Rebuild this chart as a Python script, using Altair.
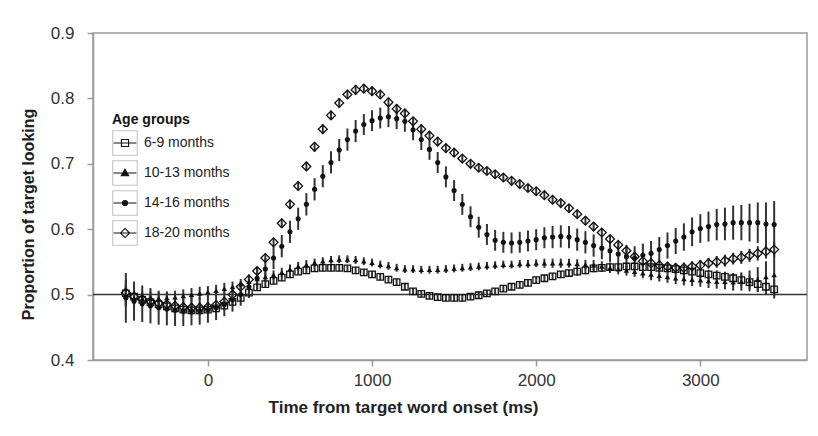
import altair as alt
import pandas as pd

groups = ["6-9 months", "10-13 months", "14-16 months", "18-20 months"]
time_ms = list(range(-500, 3451, 50))

sq_mean = [0.502, 0.497, 0.492, 0.488, 0.485, 0.482, 0.479, 0.477, 0.476, 0.476,
           0.477, 0.479, 0.483, 0.489, 0.495, 0.503, 0.511, 0.516, 0.521, 0.526,
           0.531, 0.535, 0.537, 0.540, 0.541, 0.541, 0.541, 0.540, 0.537, 0.534,
           0.531, 0.527, 0.523, 0.519, 0.512, 0.505, 0.501, 0.498, 0.496, 0.495,
           0.495, 0.495, 0.497, 0.499, 0.502, 0.505, 0.509, 0.512, 0.515, 0.518,
           0.522, 0.525, 0.528, 0.531, 0.533, 0.535, 0.537, 0.540, 0.541, 0.542,
           0.542, 0.543, 0.543, 0.542, 0.542, 0.541, 0.540, 0.539, 0.537, 0.535,
           0.533, 0.531, 0.529, 0.527, 0.525, 0.522, 0.519, 0.516, 0.512, 0.508]
tri_mean = [0.497, 0.495, 0.494, 0.494, 0.494, 0.495, 0.496, 0.498, 0.500, 0.502,
            0.504, 0.506, 0.509, 0.512, 0.516, 0.520, 0.524, 0.527, 0.530, 0.534,
            0.539, 0.543, 0.546, 0.549, 0.551, 0.553, 0.554, 0.554, 0.553, 0.551,
            0.549, 0.546, 0.544, 0.541, 0.539, 0.539, 0.538, 0.538, 0.538, 0.539,
            0.540, 0.541, 0.542, 0.543, 0.544, 0.545, 0.546, 0.546, 0.547, 0.547,
            0.548, 0.548, 0.548, 0.548, 0.548, 0.547, 0.546, 0.545, 0.543, 0.541,
            0.539, 0.537, 0.535, 0.533, 0.531, 0.529, 0.527, 0.525, 0.524, 0.523,
            0.522, 0.521, 0.520, 0.520, 0.519, 0.520, 0.521, 0.523, 0.527, 0.530]
cir_mean = [0.495, 0.490, 0.486, 0.483, 0.480, 0.478, 0.476, 0.475, 0.475, 0.475,
            0.477, 0.480, 0.485, 0.492, 0.500, 0.512, 0.525, 0.539, 0.556, 0.574,
            0.596, 0.616, 0.638, 0.661, 0.681, 0.702, 0.721, 0.737, 0.750, 0.760,
            0.766, 0.770, 0.772, 0.769, 0.765, 0.752, 0.737, 0.722, 0.702, 0.680,
            0.659, 0.638, 0.619, 0.603, 0.592, 0.583, 0.580, 0.579, 0.580, 0.582,
            0.584, 0.587, 0.588, 0.589, 0.588, 0.584, 0.580, 0.575, 0.571, 0.567,
            0.562, 0.558, 0.556, 0.560, 0.563, 0.569, 0.575, 0.582, 0.588, 0.596,
            0.601, 0.604, 0.607, 0.608, 0.610, 0.610, 0.610, 0.610, 0.608, 0.607]
dia_mean = [0.503, 0.497, 0.493, 0.490, 0.487, 0.485, 0.483, 0.481, 0.480, 0.480,
            0.481, 0.484, 0.489, 0.500, 0.512, 0.523, 0.536, 0.556, 0.580, 0.609,
            0.638, 0.666, 0.696, 0.726, 0.753, 0.774, 0.793, 0.806, 0.813, 0.815,
            0.811, 0.806, 0.794, 0.784, 0.777, 0.765, 0.753, 0.743, 0.734, 0.724,
            0.717, 0.708, 0.700, 0.694, 0.689, 0.684, 0.679, 0.674, 0.669, 0.663,
            0.658, 0.652, 0.645, 0.640, 0.632, 0.623, 0.613, 0.604, 0.595, 0.585,
            0.576, 0.567, 0.558, 0.551, 0.548, 0.545, 0.543, 0.541, 0.541, 0.543,
            0.545, 0.548, 0.550, 0.552, 0.555, 0.557, 0.560, 0.563, 0.566, 0.569]

sq_err = [0.020, 0.012, 0.010, 0.009, 0.008, 0.008, 0.008, 0.008, 0.008, 0.008,
          0.007, 0.007, 0.007, 0.006, 0.006, 0.006, 0.005, 0.005, 0.005, 0.005,
          0.005, 0.005, 0.005, 0.005, 0.005, 0.005, 0.005, 0.005, 0.005, 0.005,
          0.005, 0.005, 0.005, 0.005, 0.005, 0.005, 0.005, 0.005, 0.005, 0.005,
          0.005, 0.005, 0.005, 0.005, 0.005, 0.005, 0.005, 0.005, 0.005, 0.005,
          0.005, 0.005, 0.005, 0.005, 0.005, 0.006, 0.006, 0.006, 0.006, 0.006,
          0.006, 0.006, 0.006, 0.006, 0.006, 0.006, 0.006, 0.007, 0.007, 0.007,
          0.007, 0.007, 0.008, 0.008, 0.008, 0.009, 0.010, 0.011, 0.012, 0.014]
tri_err = [0.014, 0.012, 0.011, 0.011, 0.010, 0.010, 0.010, 0.010, 0.010, 0.010,
           0.009, 0.009, 0.009, 0.008, 0.008, 0.008, 0.008, 0.007, 0.007, 0.007,
           0.007, 0.007, 0.007, 0.006, 0.006, 0.006, 0.006, 0.006, 0.006, 0.006,
           0.006, 0.006, 0.006, 0.006, 0.006, 0.006, 0.006, 0.006, 0.006, 0.006,
           0.006, 0.006, 0.006, 0.006, 0.006, 0.006, 0.006, 0.006, 0.006, 0.006,
           0.006, 0.007, 0.007, 0.007, 0.007, 0.007, 0.007, 0.008, 0.008, 0.008,
           0.008, 0.008, 0.008, 0.008, 0.009, 0.009, 0.009, 0.009, 0.010, 0.010,
           0.010, 0.011, 0.011, 0.012, 0.013, 0.014, 0.016, 0.019, 0.024, 0.032]
cir_err = [0.038, 0.030, 0.028, 0.027, 0.026, 0.025, 0.024, 0.023, 0.022, 0.021,
           0.020, 0.019, 0.018, 0.018, 0.017, 0.017, 0.017, 0.017, 0.017, 0.017,
           0.017, 0.017, 0.017, 0.017, 0.017, 0.017, 0.017, 0.017, 0.017, 0.016,
           0.016, 0.016, 0.016, 0.016, 0.016, 0.016, 0.016, 0.016, 0.016, 0.016,
           0.016, 0.016, 0.016, 0.016, 0.016, 0.016, 0.016, 0.016, 0.016, 0.016,
           0.016, 0.016, 0.017, 0.017, 0.017, 0.017, 0.017, 0.017, 0.017, 0.017,
           0.017, 0.018, 0.018, 0.018, 0.019, 0.019, 0.020, 0.020, 0.021, 0.022,
           0.022, 0.023, 0.024, 0.025, 0.026, 0.027, 0.029, 0.031, 0.033, 0.036]
dia_err = [0.012, 0.010, 0.009, 0.009, 0.008, 0.008, 0.008, 0.008, 0.008, 0.008,
           0.008, 0.008, 0.008, 0.008, 0.008, 0.008, 0.007, 0.007, 0.007, 0.007,
           0.007, 0.007, 0.007, 0.007, 0.007, 0.007, 0.007, 0.007, 0.007, 0.007,
           0.007, 0.007, 0.007, 0.007, 0.007, 0.007, 0.007, 0.007, 0.007, 0.007,
           0.006, 0.006, 0.006, 0.006, 0.006, 0.006, 0.006, 0.006, 0.006, 0.006,
           0.006, 0.006, 0.006, 0.006, 0.006, 0.006, 0.006, 0.006, 0.006, 0.006,
           0.006, 0.006, 0.007, 0.007, 0.007, 0.007, 0.007, 0.007, 0.008, 0.008,
           0.008, 0.008, 0.009, 0.009, 0.009, 0.010, 0.010, 0.011, 0.011, 0.012]

x_ticks = [0, 1000, 2000, 3000]
y_ticks = [0.4, 0.5, 0.6, 0.7, 0.8, 0.9]

means = [sq_mean, tri_mean, cir_mean, dia_mean]
errs = [sq_err, tri_err, cir_err, dia_err]
rows = []
for g, m, e in zip(groups, means, errs):
    for t, v, s in zip(time_ms, m, e):
        rows.append({"t": t, "group": g, "v": v, "lo": v - s, "hi": v + s})
df = pd.DataFrame(rows)

FONT = "Liberation Sans"
x_scale = alt.Scale(domain=[-700, 3650], nice=False, zero=False)
y_scale = alt.Scale(domain=[0.4, 0.9], nice=False, zero=False)
x_axis = alt.Axis(values=x_ticks, format="d", tickSize=6, labelPadding=6,
                  titlePadding=11, titleX=310, titleAnchor="middle",
                  titleFontSize=17, grid=False)
y_axis = alt.Axis(values=y_ticks, format=".1f", tickSize=6, labelPadding=13,
                  titlePadding=14, titleY=181, titleFontSize=16, grid=False)
X = alt.X("t:Q", scale=x_scale, axis=x_axis, title="Time from target word onset (ms)")


def Y(field):
    return alt.Y(field, scale=y_scale, axis=y_axis, title="Proportion of target looking")


base = alt.Chart(df)

bars = base.mark_rule(color="#333333", strokeWidth=2).encode(
    x=X, y=Y("lo:Q"), y2="hi:Q")

ref = alt.Chart(pd.DataFrame({"v": [0.5]})).mark_rule(
    color="#333333", strokeWidth=1.5).encode(y=Y("v:Q"))

styles = [("square", False, 42), ("triangle-up", True, 30),
          ("circle", True, 26), ("diamond", False, 78)]
point_layers = []
for g, (shape, filled, size) in zip(groups, styles):
    point_layers.append(
        base.transform_filter(alt.datum.group == g).mark_point(
            shape=shape, filled=filled, size=size, color="#111111",
            strokeWidth=1.3, opacity=1).encode(x=X, y=Y("v:Q")))

# legend: a column of grey boxes (colour legend) under a legend of line+marker symbols
box_ids = ["box1", "box2", "box3", "box4"]
legend_df = pd.DataFrame({"group": groups, "box": box_ids})
box_path = "M-1,-1H1V1H-1Z"
# each symbol path carries two bare move-to points at the box corners so that
# both legends get rows of the same height
EXT = "M-1,-1M1,1"
sym_paths = [
    EXT + "M-0.93,0H0.93M-0.29,-0.29H0.29V0.29H-0.29Z",
    EXT + "M-0.93,0H0.93M0,-0.31L0.3,0.22L-0.3,0.22Z",
    EXT + "M-0.93,0H0.93M-0.21,0A0.21,0.21,0,1,0,0.21,0A0.21,0.21,0,1,0,-0.21,0Z",
    EXT + "M-0.93,0H0.93M0,-0.37L0.37,0L0,0.37L-0.37,0Z",
]
SYM = 600
common = dict(orient="none", legendX=19, labelFont=FONT, labelFontSize=14,
              labelOffset=6, rowPadding=0, symbolOpacity=1, padding=0,
              symbolSize=SYM, symbolStrokeWidth=1.1)
leg_box = alt.Legend(legendY=97, title=None, labelExpr="''",
                     symbolStrokeColor="#c4c4c4",
                     symbolFillColor="transparent", symbolType=box_path,
                     **common)
leg_sym = alt.Legend(legendY=80, title="Age groups", titleFont=FONT,
                     titleFontSize=14, titleFontWeight="bold", titlePadding=3,
                     titleColor="#111111", labelColor="#222222",
                     symbolStrokeColor="#111111", **common)

legend_boxes = alt.Chart(legend_df).mark_point(
    shape=box_path, filled=False, size=SYM, strokeWidth=1.1).encode(
    x=alt.value(-900), y=alt.value(-900),
    color=alt.Color("box:N", scale=alt.Scale(domain=box_ids, range=["#c4c4c4"] * 4),
                    legend=leg_box))

legend_syms = alt.Chart(legend_df).mark_point(strokeWidth=1.1, size=SYM).encode(
    x=alt.value(-900), y=alt.value(-900),
    shape=alt.Shape("group:N", scale=alt.Scale(domain=groups, range=sym_paths),
                    legend=leg_sym),
    fill=alt.Fill("group:N", scale=alt.Scale(
        domain=groups, range=["transparent", "#111111", "#111111", "transparent"]),
        legend=leg_sym),
    stroke=alt.Stroke("group:N", scale=alt.Scale(domain=groups, range=["#111111"] * 4),
                      legend=leg_sym))

chart = alt.layer(ref, bars, *point_layers, legend_boxes, legend_syms).properties(
    width=714, height=327,
    autosize=alt.AutoSizeParams(type="none"),
    padding={"left": 85, "top": 25, "right": 3, "bottom": 70},
).configure_view(stroke="#9a9a9a", strokeWidth=1.5).configure_axis(
    domainColor="#9a9a9a", domainWidth=1.5, tickColor="#9a9a9a", tickWidth=1.5,
    labelFont=FONT, labelFontSize=17, labelColor="#333333",
    titleFont=FONT, titleFontWeight="bold", titleColor="#222222",
)

chart.save("out.html", embed_options={"renderer": "svg", "actions": False})
